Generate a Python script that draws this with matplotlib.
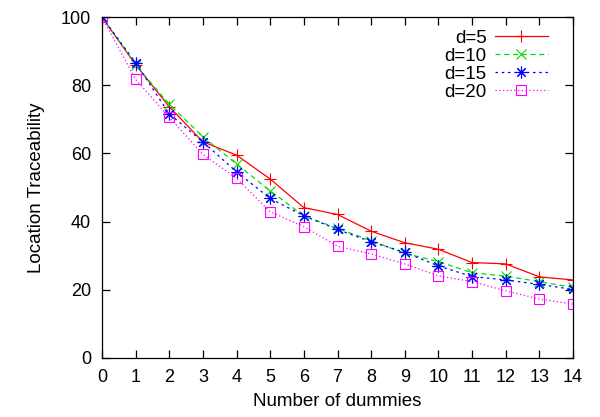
import matplotlib
matplotlib.use("Agg")
import matplotlib.pyplot as plt

plt.rcParams['font.family'] = ['Liberation Sans', 'DejaVu Sans']

dummies = list(range(15))
d5 = [100, 86.0, 73.7, 63.4, 59.5, 52.5, 44.1, 42.1, 37.2, 33.8, 31.9, 28.0, 27.6, 23.8, 22.9]
d10 = [100, 86.0, 74.4, 64.9, 56.9, 49.0, 41.7, 38.0, 34.4, 30.7, 28.3, 25.0, 24.0, 22.4, 20.7]
d15 = [100, 86.6, 71.6, 63.4, 54.6, 46.8, 41.7, 37.7, 34.1, 31.0, 27.0, 23.9, 22.9, 21.6, 20.1]
d20 = [100, 81.7, 70.6, 59.7, 52.7, 42.9, 38.5, 32.8, 30.5, 27.6, 24.1, 22.4, 19.7, 17.3, 15.8]

fig = plt.figure(figsize=(6, 4.17), dpi=100)
ax = fig.add_axes([0.17, 0.1415, 0.785, 0.8175])

ax.plot(dummies, d5, color='#ff0000', lw=0.9, ls='-', marker='+', ms=9, mew=0.8, label='d=5')
ax.plot(dummies, d10, color='#00dd00', lw=0.9, ls=(0, (4, 3)), marker='x', ms=6.5, mew=0.8, label='d=10')
ax.plot(dummies, d15, color='#0000ff', lw=0.9, ls=(0, (2, 3)), marker=(8, 2, 0), ms=8.5, mew=0.8, label='d=15')
ax.plot(dummies, d20, color='#ff00ff', lw=0.9, ls=(0, (1, 2)), marker='s', ms=7, mew=0.8,
        mfc='none', label='d=20')

ax.set_xlim(0, 14)
ax.set_ylim(0, 100)
ax.set_xticks(range(15))
ax.set_yticks(range(0, 101, 20))
ax.tick_params(direction='in', top=True, right=True, length=6, width=0.9, labelsize=13, pad=8)
for s in ax.spines.values():
    s.set_linewidth(0.9)

ax.set_xlabel('Number of dummies', fontsize=13.5, labelpad=5)
ax.set_ylabel('Location Traceability', fontsize=13.5, labelpad=11)

leg = ax.legend(loc='upper right', markerfirst=False, frameon=False, fontsize=13.5,
                handlelength=2.8, handletextpad=0.45, labelspacing=0.05,
                borderaxespad=0.0, bbox_to_anchor=(0.962, 0.985))
for t in leg.get_texts():
    t.set_ha('right')

fig.savefig('out.png', dpi=100)
